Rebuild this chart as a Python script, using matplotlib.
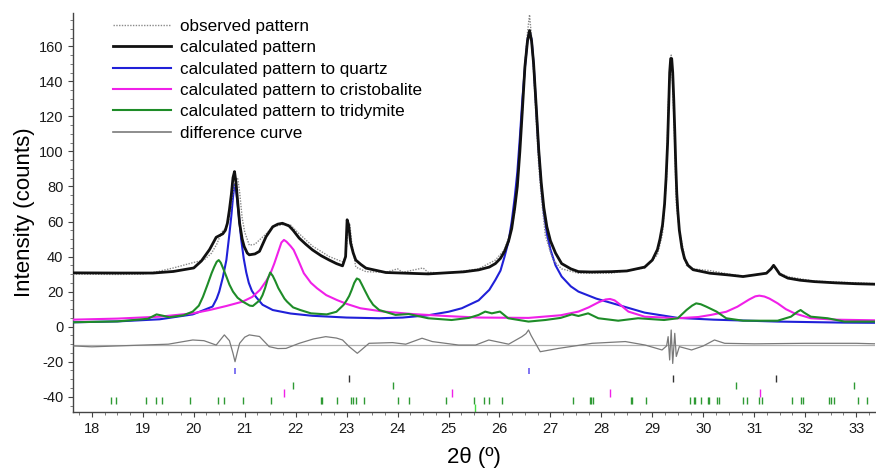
import matplotlib
matplotlib.use("Agg")
import matplotlib.pyplot as plt
from matplotlib.ticker import MultipleLocator
from matplotlib.lines import Line2D

plt.rcParams['font.family'] = ['Liberation Sans', 'DejaVu Sans']
plt.rcParams['axes.unicode_minus'] = False

# ---------------- data ----------------
calc_x = [17.63, 18.5, 19.2, 19.6, 20.0, 20.15, 20.31, 20.44, 20.57, 20.62, 20.66, 20.7, 20.74, 20.77,
          20.8, 20.83, 20.86, 20.9, 20.95, 20.99, 21.05, 21.09, 21.2, 21.29, 21.42, 21.55, 21.65, 21.74,
          21.87, 21.95, 22.07, 22.2, 22.33, 22.5, 22.66, 22.8, 22.92, 22.98, 23.01, 23.04, 23.08, 23.13,
          23.18, 23.28, 23.38, 23.77, 24.6, 25.0, 25.3, 25.59, 25.8, 25.92, 26.02, 26.1, 26.18, 26.24,
          26.3, 26.35, 26.4, 26.45, 26.5, 26.55, 26.59, 26.63, 26.67, 26.72, 26.77, 26.82, 26.87, 26.93,
          27.0, 27.1, 27.22, 27.4, 27.55, 27.8, 28.2, 28.5, 28.85, 29.0, 29.1, 29.15, 29.2, 29.24, 29.27,
          29.3, 29.32, 29.34, 29.36, 29.38, 29.4, 29.42, 29.44, 29.46, 29.48, 29.5, 29.53, 29.58, 29.63,
          29.7, 29.8, 30.13, 30.5, 30.78, 31.0, 31.24, 31.33, 31.38, 31.43, 31.5, 31.66, 31.9, 32.18,
          32.6, 33.0, 33.4]
calc_y = [30.7, 30.6, 30.6, 31.5, 33.5, 37.5, 44, 51, 53, 55, 59, 66.7, 76, 85,
          88.5, 82, 72, 59, 50, 45.7, 42, 41, 41.5, 43, 51.4, 57, 58.5, 59,
          57.5, 55, 50.5, 47, 43.8, 40.5, 38, 36, 34.7, 40, 61, 58, 47.6, 42,
          38, 35.5, 33.4, 30.9, 30.1, 30.8, 31.3, 32.4, 34, 36, 39, 43, 49, 56,
          68, 80, 100, 124, 148.6, 163, 169, 163, 150, 126, 101, 82, 68, 57,
          49, 42, 36, 33, 31.4, 31.2, 31.4, 31.8, 34, 38, 44, 50, 58, 70, 85,
          105, 125, 145, 153, 153, 145, 130, 112, 92, 76, 66, 55, 45, 39,
          35, 32.5, 30.5, 29.5, 28.6, 29.5, 30.5, 33, 35, 33, 30, 27.7, 26.5, 25.7,
          25, 24.5, 24.2]

obs_x = [17.63, 18.5, 19.0, 19.3, 19.6, 19.98, 20.2, 20.35, 20.45, 20.55, 20.62, 20.7, 20.76, 20.82,
         20.86, 20.9, 20.95, 21.0, 21.09, 21.2, 21.29, 21.42, 21.55, 21.7, 21.8, 21.9, 22.07, 22.33,
         22.66, 22.92, 22.98, 23.03, 23.06, 23.1, 23.18, 23.38, 23.77, 24.0, 24.1, 24.5, 24.6, 25.0,
         25.59, 25.92, 26.1, 26.24, 26.3, 26.38, 26.45, 26.5, 26.55, 26.59, 26.63, 26.68, 26.72, 26.77,
         26.82, 26.9, 27.05, 27.22, 27.55, 28.2, 28.5, 28.85, 29.1, 29.2, 29.28, 29.31, 29.34, 29.37,
         29.4, 29.44, 29.47, 29.53, 29.67, 29.8, 30.13, 30.5, 30.78, 31.24, 31.38, 31.5, 31.66, 32.18,
         33.0, 33.4]
obs_y = [30.0, 29.8, 30.0, 31.5, 33.5, 36.5, 38, 42, 47, 54, 56, 62, 75, 84,
         85, 77, 62, 54, 46.5, 47, 49.5, 53, 57, 58, 58.5, 58, 53, 46,
         40, 37, 40, 56, 59, 48, 34, 31.4, 31, 33, 31, 33.5, 31, 30.5,
         33, 38, 44, 56, 66, 92, 122, 150, 168, 178, 165, 140, 118, 92,
         74, 52, 38, 33, 30.5, 30.5, 32, 33.5, 41, 53, 85, 125, 142, 155,
         138, 104, 70, 55, 35, 33, 32, 30, 28.8, 30.5, 34.5, 30.5, 28.5, 26,
         25, 24.5]

quartz_x = [17.63, 18.5, 19.33, 19.98, 20.2, 20.37, 20.45, 20.5, 20.57, 20.64, 20.7, 20.74, 20.77,
            20.8, 20.83, 20.86, 20.9, 20.93, 20.98, 21.03, 21.08, 21.14, 21.22, 21.35, 21.55, 21.9,
            22.33, 23.0, 23.64, 24.1, 24.6, 25.0, 25.26, 25.59, 25.8, 25.92, 26.02, 26.1, 26.18, 26.24,
            26.3, 26.35, 26.4, 26.45, 26.5, 26.55, 26.59, 26.63, 26.67, 26.72, 26.77, 26.82, 26.87,
            26.93, 27.0, 27.1, 27.22, 27.4, 27.55, 27.9, 28.2, 28.85, 29.5, 30.2, 31.46, 32.77, 33.4]
quartz_y = [2.5, 3.0, 4.2, 7.0, 9.5, 11.5, 16, 20, 28, 38, 53, 64, 74,
            81, 78, 70, 59, 50, 39, 31, 25, 20.5, 17, 12.5, 9.5, 7.5,
            6.2, 5.2, 4.8, 5.2, 6.5, 8.5, 10.5, 15, 21, 26.7, 32, 40, 49, 60,
            74, 88, 108, 130, 148, 164, 168.6, 164, 150, 125, 100, 80, 65,
            53, 44, 35, 28.6, 23, 20, 16, 13.5, 8, 5, 4, 2.9, 2.3, 2.2]

crist_x = [17.63, 18.5, 19.33, 19.98, 20.31, 20.64, 20.96, 21.15, 21.3, 21.42, 21.5, 21.58, 21.65,
           21.72, 21.77, 21.82, 21.9, 21.96, 22.05, 22.16, 22.3, 22.42, 22.6, 22.81, 23.0, 23.27,
           23.7, 24.29, 25.0, 25.59, 26.57, 27.2, 27.55, 27.75, 27.95, 28.08, 28.17, 28.26, 28.35,
           28.53, 28.85, 29.5, 29.9, 30.15, 30.45, 30.67, 30.9, 31.02, 31.1, 31.2, 31.3, 31.46, 31.62,
           31.79, 32.11, 32.6, 33.4]
crist_y = [4.0, 4.6, 5.7, 7.6, 9.5, 11.8, 14.3, 17, 21, 26, 30, 36, 42,
           48, 49.5, 48.5, 46, 43.8, 38, 30.5, 25, 21.9, 18, 15.2, 13, 10.5,
           8.7, 7.2, 6, 5.2, 5, 6.5, 8.6, 11, 14, 15.5, 15.8, 15, 13,
           8.6, 5.7, 4.8, 5.5, 6.7, 8.5, 11.4, 15.5, 17.3, 17.7, 17.2, 16, 13.3, 10,
           7.6, 4.8, 4, 3.6]

trid_x = [17.63, 18.5, 19.1, 19.27, 19.4, 19.52, 19.8, 19.98, 20.1, 20.18, 20.27, 20.35, 20.4,
          20.45, 20.49, 20.53, 20.58, 20.64, 20.7, 20.77, 20.86, 20.96, 21.1, 21.16, 21.3, 21.35,
          21.4, 21.45, 21.5, 21.55, 21.6, 21.66, 21.72, 21.78, 21.83, 21.95, 22.09, 22.3, 22.61, 22.8,
          22.94, 23.0, 23.05, 23.1, 23.15, 23.2, 23.25, 23.3, 23.36, 23.44, 23.52, 23.64, 23.96,
          24.22, 24.6, 25.06, 25.4, 25.59, 25.72, 25.85, 26.01, 26.17, 26.57, 26.9, 27.2, 27.42,
          27.55, 27.74, 27.94, 28.33, 28.72, 29.23, 29.5, 29.67, 29.78, 29.86, 29.95, 30.06, 30.26,
          30.45, 30.78, 31.46, 31.72, 31.85, 31.91, 31.98, 32.11, 32.44, 32.77, 33.4]
trid_y = [2.5, 3.0, 4.5, 7.0, 6.2, 5.4, 6.5, 8.6, 12, 17, 24, 30.5, 34,
          37, 38, 36.5, 33, 28.6, 24, 20, 16.5, 14.3, 12, 11.8, 15.2, 18,
          22, 27, 30.9, 29, 26, 22, 19, 16, 14.3, 11, 9.5, 7.6, 7, 8.5,
          12.4, 15, 17.5, 21, 25, 27.5, 26.8, 24, 20.5, 16, 12.5, 9.5, 6.7,
          7.2, 4.8, 3.8, 5.0, 6.7, 8.6, 7.6, 8.6, 4.8, 2.9, 3.8, 5, 7,
          6.1, 7.6, 4.8, 3.4, 4.8, 3.8, 4.8, 9.5, 12, 13.3, 12.8, 11.4, 8.6,
          4.8, 3.4, 3.4, 5.7, 8.5, 9.5, 8, 5.7, 4.8, 2.9, 2.9]

diff_x = [17.63, 18.0, 18.5, 19.0, 19.5, 19.98, 20.2, 20.44, 20.6, 20.7, 20.77, 20.81, 20.86, 20.9,
          21.0, 21.09, 21.29, 21.48, 21.65, 21.81, 22.07, 22.35, 22.59, 22.8, 22.92, 23.05, 23.21,
          23.3, 23.44, 23.9, 24.16, 24.48, 24.68, 25.2, 25.53, 25.79, 26.18, 26.44, 26.52, 26.57,
          26.62, 26.67, 26.8, 27.16, 27.82, 28.47, 28.86, 29.19, 29.28, 29.31, 29.34, 29.37, 29.4,
          29.44, 29.47, 29.53, 29.77, 30.0, 30.22, 30.42, 31.0, 32.0, 33.0, 33.4]
diff_y = [-11, -11.5, -11, -10.5, -10, -7.6, -8, -10.5, -4.7, -8, -15.2, -20, -14, -9.5,
          -6, -4.7, -5.6, -11.4, -12.5, -12.4, -9.5, -7, -5.7, -6.5, -7.6, -11.4, -15.2,
          -13, -9.5, -9.1, -10, -6.6, -8.5, -10.5, -10.5, -7.6, -10, -5.7, -4, -1.9,
          -5, -7.6, -14.3, -12.4, -9.5, -8.5, -10.5, -13.3, -11, -5.7, -19, -1.9, -21,
          -3.8, -17, -11.4, -13.3, -11, -7.6, -9.5, -9.8, -9.5, -9.5, -9.8]
diff_zero = -10.5

# reflection positions
quartz_refl = [20.81, 26.58]
black_refl = [23.04, 29.4, 31.43]
trid2_refl = [21.94, 23.92, 30.65, 32.96]
crist_refl = [21.77, 25.07, 28.17, 31.12]
trid_refl = [18.37, 18.48, 19.06, 19.25, 19.38, 19.93, 20.48, 20.6, 20.97, 21.52, 22.49, 22.52,
             22.81, 23.08, 23.13, 23.19, 23.35, 24.01, 24.22, 24.96, 25.5, 25.69, 25.8, 26.05,
             27.45, 27.77, 27.8, 27.84, 28.58, 28.6, 28.87, 29.73, 29.82, 29.84, 29.96, 30.09,
             30.11, 30.27, 30.31, 30.78, 30.85, 31.09, 31.16, 31.74, 31.92, 31.95, 32.47, 32.5,
             32.56, 33.03, 33.21]
lime_refl = [25.52]

legend_labels = ["observed pattern", "calculated pattern", "calculated pattern to quartz",
                 "calculated pattern to cristobalite", "calculated pattern to tridymite",
                 "difference curve"]

# ---------------- plot ----------------
fig = plt.figure(figsize=(8.76, 4.72), dpi=100)
ax = fig.add_axes([73/876, 1-412/472, (875-73)/876, (412-13)/472])

c_obs = '#8a8a8a'
c_calc = '#111111'
c_q = '#2020d8'
c_c = '#f020e8'
c_t = '#1e8c28'
c_d = '#7a7a7a'

ax.plot(quartz_x, quartz_y, color=c_q, lw=1.5, zorder=3)
ax.plot(crist_x, crist_y, color=c_c, lw=1.5, zorder=3)
ax.plot(trid_x, trid_y, color=c_t, lw=1.5, zorder=4)
ax.plot(obs_x, obs_y, color=c_obs, lw=1.0, ls=(0, (1, 1)), zorder=5)
ax.plot(calc_x, calc_y, color=c_calc, lw=2.0, zorder=6)
ax.axhline(diff_zero, color='#b0b0b0', lw=0.9, zorder=2)
ax.plot(diff_x, diff_y, color=c_d, lw=0.9, zorder=3)

ax.vlines(quartz_refl, -27.2, -23.4, color='#6a5cf0', lw=1.2)
ax.vlines(black_refl, -31.8, -27.6, color='#333333', lw=1.0)
ax.vlines(trid2_refl, -35.8, -31.8, color='#2e9a34', lw=1.0)
ax.vlines(crist_refl, -40.0, -35.8, color='#f020e8', lw=1.0)
ax.vlines(trid_refl, -44.2, -40.0, color='#2e9a34', lw=1.0)
ax.vlines(lime_refl, -48.6, -44.2, color='#44e044', lw=1.0)

ax.set_xlim(17.63, 33.37)
ax.set_ylim(-48.7, 179)
ax.xaxis.set_major_locator(MultipleLocator(1))
ax.xaxis.set_minor_locator(MultipleLocator(0.25))
ax.set_yticks([-40, -20, 0, 20, 40, 60, 80, 100, 120, 140, 160])
ax.yaxis.set_minor_locator(MultipleLocator(5))
for s in ['top', 'right']:
    ax.spines[s].set_visible(False)
for s in ['left', 'bottom']:
    ax.spines[s].set_color('#444444')
    ax.spines[s].set_linewidth(1.0)
ax.tick_params(which='major', direction='out', length=3.5, width=0.8, colors='#444444',
               labelcolor='#1a1a1a', labelsize=10.5)
ax.tick_params(which='minor', direction='out', length=2, width=0.6, colors='#666666')

ax.set_ylabel("Intensity (counts)", fontsize=16, labelpad=2.5)
ax.set_xlabel("2θ (º)", fontsize=16, labelpad=8)

handles = [Line2D([], [], color=c_obs, lw=1.0, ls=(0, (1, 1))),
           Line2D([], [], color=c_calc, lw=2.0),
           Line2D([], [], color=c_q, lw=1.5),
           Line2D([], [], color=c_c, lw=1.5),
           Line2D([], [], color=c_t, lw=1.5),
           Line2D([], [], color=c_d, lw=1.2)]
ax.legend(handles, legend_labels, loc='upper left', bbox_to_anchor=(113/876, 1-19/472),
          bbox_transform=fig.transFigure, frameon=False, fontsize=12.3, handlelength=3.4,
          handletextpad=0.55, labelspacing=0.37, borderpad=0, borderaxespad=0)

fig.savefig("out.png", dpi=100)
